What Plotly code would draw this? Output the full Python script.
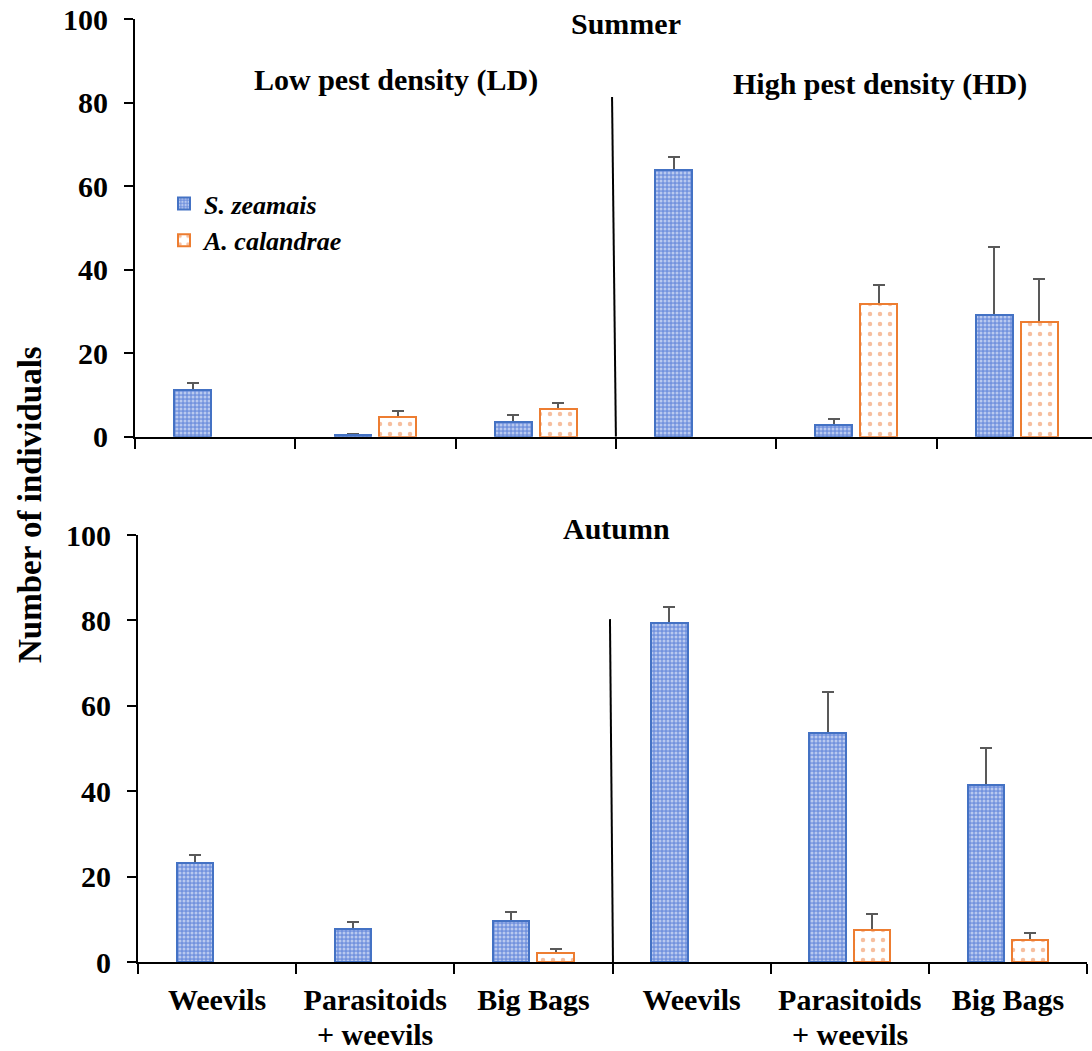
import plotly.graph_objects as go

# ---- data ----
categories = ["Weevils", "Parasitoids<br>+ weevils", "Big Bags",
              "Weevils", "Parasitoids<br>+ weevils", "Big Bags"]
series_names = ["S. zeamais", "A. calandrae"]

summer_sz = [11.2, 0.3, 3.6, 63.8, 2.8, 29.2]
summer_sz_err = [1.7, 0.3, 1.6, 3.1, 1.4, 16.3]
summer_ac = [None, 4.7, 6.6, None, 31.8, 27.5]
summer_ac_err = [None, 1.5, 1.5, None, 4.6, 10.3]

autumn_sz = [23.2, 7.7, 9.6, 79.4, 53.6, 41.5]
autumn_sz_err = [1.9, 1.7, 2.1, 3.7, 9.6, 8.6]
autumn_ac = [None, None, 2.1, None, 7.5, 5.2]
autumn_ac_err = [None, None, 0.9, None, 3.7, 1.6]

panel_titles = ["Summer", "Autumn"]
density_labels = ["Low pest density (LD)", "High pest density (HD)"]
y_ticks = [0, 20, 40, 60, 80, 100]
y_title = "Number of individuals"

FONT = "Liberation Serif"
BLUE_LINE = "#4472C4"
ORANGE_LINE = "#ED7D31"
ERR = "#595959"

W, H = 1092, 1051
ML, MR, MT, MB = 135, 0, 19, H - 962
PW, PH = W - ML - MR, H - MT - MB

def px_x(p):
    return (p - ML) / PW

def px_y(p):
    return (H - MB - p) / PH

xpos = list(range(len(categories)))
line1 = [c.split("<br>")[0] for c in categories]
line2 = [c.split("<br>")[1] if "<br>" in c else "" for c in categories]

fig = go.Figure()

BAR_W = 0.23
OFFS = [-0.255, 0.025]

def add_series(vals, errs, xa, ya, idx, showlegend):
    # hidden carrier for the error bars (drawn underneath the visible bars)
    fig.add_trace(go.Bar(
        x=xpos, y=vals, xaxis=xa, yaxis=ya, width=BAR_W, offset=OFFS[idx],
        marker=dict(color="rgba(0,0,0,0)", line=dict(width=0)),
        error_y=dict(type="data", symmetric=False, array=errs,
                     arrayminus=[0] * len(vals), color=ERR, thickness=2, width=6),
        showlegend=False, hoverinfo="skip",
    ))
    if idx == 0:
        marker = dict(color="#7b9ae0",
                      line=dict(color=BLUE_LINE, width=2),
                      pattern=dict(shape=".", fgcolor="white", bgcolor="#7393de",
                                   size=4, solidity=0.45))
    else:
        marker = dict(color="white",
                      line=dict(color=ORANGE_LINE, width=2),
                      pattern=dict(shape=".", fgcolor="#EE8040", bgcolor="white",
                                   size=10, solidity=0.16))
    fig.add_trace(go.Bar(
        x=xpos, y=vals, xaxis=xa, yaxis=ya, width=BAR_W, offset=OFFS[idx],
        name="<b><i>" + series_names[idx] + "</i></b>",
        marker=marker, showlegend=showlegend, legendgroup=str(idx),
    ))

add_series(summer_sz, summer_sz_err, "x", "y", 0, True)
add_series(summer_ac, summer_ac_err, "x", "y", 1, True)
add_series(autumn_sz, autumn_sz_err, "x2", "y2", 0, False)
add_series(autumn_ac, autumn_ac_err, "x2", "y2", 1, False)

tickfont = dict(family=FONT, size=30, color="black", weight="bold")

yaxis_common = dict(
    range=[0, 100], tickvals=y_ticks, ticks="outside", ticklen=9, tickwidth=2,
    tickcolor="black", showline=True, linecolor="black", linewidth=2,
    showgrid=False, zeroline=False, tickfont=tickfont, ticklabelstandoff=10,
    automargin=False,
)

fig.update_layout(
    width=W, height=H,
    margin=dict(l=ML, r=MR, t=MT, b=MB, autoexpand=False),
    paper_bgcolor="white", plot_bgcolor="white",
    barmode="overlay",
    font=dict(family=FONT, color="black"),
    xaxis=dict(domain=[0, 1.0], range=[-0.5, -0.5 + PW / 160.3],
               tickvals=xpos, showticklabels=False, ticks="",
               minor=dict(tick0=-0.5, dtick=1, ticks="outside", ticklen=10,
                          tickwidth=2, tickcolor="black"),
               showline=True, linecolor="black", linewidth=2,
               showgrid=False, zeroline=False, anchor="y", automargin=False),
    yaxis=dict(domain=[px_y(436.7), 1.0], anchor="x", **yaxis_common),
    xaxis2=dict(domain=[px_x(138), px_x(1087)], range=[-0.5, 5.5],
                tickvals=xpos, ticktext=line1, ticks="",
                minor=dict(tick0=-0.5, dtick=1, ticks="outside", ticklen=10,
                           tickwidth=2, tickcolor="black"),
                tickfont=tickfont, ticklabelstandoff=10,
                showline=True, linecolor="black", linewidth=2,
                showgrid=False, zeroline=False, anchor="y2", automargin=False),
    yaxis2=dict(domain=[0, px_y(535)], anchor="x2", **yaxis_common),
    legend=dict(x=px_x(164), y=px_y(180), xanchor="left", yanchor="top",
                bgcolor="rgba(0,0,0,0)", tracegroupgap=0,
                font=dict(family=FONT, size=26, color="black")),
    bargap=0,
)

# divider lines
fig.add_shape(type="line", xref="x", yref="y", x0=2.476, y0=81.3, x1=2.50, y1=0,
              line=dict(color="black", width=2))
fig.add_shape(type="line", xref="x2", yref="y2", x0=2.484, y0=80.3, x1=2.503, y1=0,
              line=dict(color="black", width=2))

ann_font = dict(family=FONT, size=30, color="black", weight="bold")
def ann(text, x, y, **kw):
    fig.add_annotation(text=text, x=px_x(x), y=px_y(y), xref="paper", yref="paper",
                       showarrow=False, xanchor="center", yanchor="middle", **kw)

ann(panel_titles[0], 626, 24, font=ann_font)
ann(panel_titles[1], 616, 528, font=ann_font)
ann(density_labels[0], 396, 80, font=ann_font)
ann(density_labels[1], 880, 84, font=ann_font)
ann(y_title, 30, 505, font=dict(family=FONT, size=33, color="black", weight="bold"),
    textangle=-90)

# second line of the two-line category labels
for i, t in enumerate(line2):
    if t:
        fig.add_annotation(text=t, x=i, y=px_y(1034), xref="x2", yref="paper",
                           showarrow=False, xanchor="center", yanchor="middle",
                           font=tickfont)

fig.write_html("out.html", config={"displayModeBar": False},
               post_script="document.body.style.margin='0';")
